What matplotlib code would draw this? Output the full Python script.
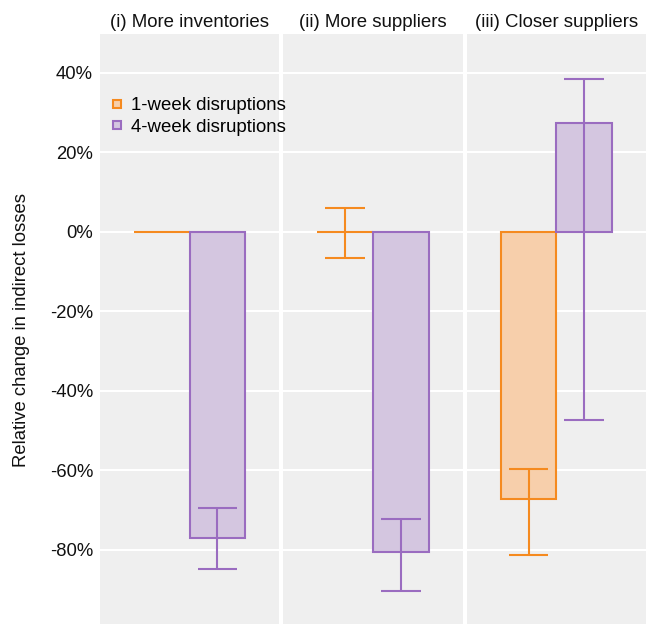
import matplotlib
matplotlib.use("Agg")
import matplotlib.pyplot as plt
from matplotlib.lines import Line2D
import numpy as np

plt.rcParams['font.family'] = ['Liberation Sans', 'DejaVu Sans']

# Data: relative change in indirect losses (%)
panels = ["(i) More inventories", "(ii) More suppliers", "(iii) Closer suppliers"]
series = ["1-week disruptions", "4-week disruptions"]
week1_values = [0.0, 0.0, -67.2]
week1_lower = [np.nan, -6.6, -81.3]
week1_upper = [np.nan, 6.0, -59.7]
week4_values = [-77.0, -80.5, 27.3]
week4_lower = [-84.9, -90.4, -47.5]
week4_upper = [-69.5, -72.2, 38.5]
yticks = [-80, -60, -40, -20, 0, 20, 40]

edge_colors = ["#f58a1f", "#9a6cc0"]
fill_colors = ["#f7cfab", "#d4c6e0"]
bg = "#efefef"
txt = "#111111"

fig = plt.figure(figsize=(6.46, 6.24), dpi=100)
left, right, bottom, top = 100 / 646, 1.0, 0.0, 1 - 34 / 624
gap = 4 / 646
pw = (right - left - 2 * gap) / 3
axes = []
for i in range(3):
    ax = fig.add_axes([left + i * (pw + gap), bottom, pw, top - bottom])
    axes.append(ax)

bw = 0.31
offsets = [-bw / 2, bw / 2]
cap = 0.11

for i, ax in enumerate(axes):
    ax.set_facecolor(bg)
    ax.set_xlim(-0.5, 0.5)
    ax.set_ylim(-98.7, 49.7)
    ax.set_yticks(yticks)
    ax.grid(axis='y', color='white', linewidth=1.5)
    ax.set_axisbelow(True)
    for s in ax.spines.values():
        s.set_visible(False)
    ax.set_xticks([])
    ax.tick_params(axis='y', length=0, labelsize=13.3, pad=5, labelcolor=txt)
    if i == 0:
        ax.set_yticklabels([f"{t}%" for t in yticks])
    else:
        ax.set_yticklabels([])
    ax.set_title(panels[i], fontsize=13.4, pad=5, color=txt)

    vals = [week1_values[i], week4_values[i]]
    lows = [week1_lower[i], week4_lower[i]]
    ups = [week1_upper[i], week4_upper[i]]
    for k in range(2):
        x = offsets[k]
        ax.bar(x, vals[k], width=bw, color=fill_colors[k], edgecolor=edge_colors[k],
               linewidth=1.5, zorder=2)
        if not np.isnan(lows[k]):
            ax.vlines(x, lows[k], ups[k], color=edge_colors[k], linewidth=1.5, zorder=3)
            ax.hlines([lows[k], ups[k]], x - cap, x + cap, color=edge_colors[k],
                      linewidth=1.5, zorder=3)

fig.text(22 / 646, 1 - 330 / 624, "Relative change in indirect losses", rotation=90,
         ha='center', va='center', fontsize=13.3, color=txt)

handles = [Line2D([], [], linestyle='none', marker='s', markersize=6,
                  markerfacecolor=fill_colors[k], markeredgecolor=edge_colors[k],
                  markeredgewidth=1.5) for k in range(2)]
fig.legend(handles, series, loc='upper left', bbox_to_anchor=(97 / 646, 540 / 624),
           frameon=False, fontsize=13.4, handlelength=0.7, handletextpad=0.45,
           labelspacing=0.25, borderaxespad=0.3)

fig.savefig("out.png", dpi=100, facecolor='white')
